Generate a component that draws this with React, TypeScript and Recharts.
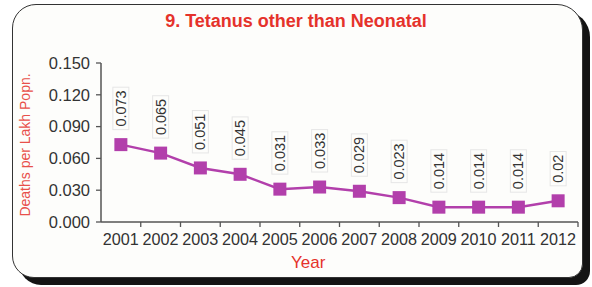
import { LineChart, Line, XAxis, YAxis, LabelList } from "recharts";

const years = ["2001", "2002", "2003", "2004", "2005", "2006", "2007", "2008", "2009", "2010", "2011", "2012"];
const deaths = [0.073, 0.065, 0.051, 0.045, 0.031, 0.033, 0.029, 0.023, 0.014, 0.014, 0.014, 0.02];
const valueLabels = ["0.073", "0.065", "0.051", "0.045", "0.031", "0.033", "0.029", "0.023", "0.014", "0.014", "0.014", "0.02"];
const yTicks = [0, 0.03, 0.06, 0.09, 0.12, 0.15];

const data = years.map((year, i) => ({ year, value: deaths[i], label: valueLabels[i] }));

const W = 592;
const H = 287;
const MARGIN = { top: 63, right: 14, bottom: 35, left: 41 };
const Y_WIDTH = 60;
const PLOT_W = W - MARGIN.left - MARGIN.right - Y_WIDTH;
const BAND = PLOT_W / years.length;

const RED = "#e5322b";
const PURPLE = "#b23fab";
const INK = "#333";

const SquareDot = (props: any) => {
  const { cx, cy, index } = props;
  return <rect key={index} x={cx - 6.5} y={cy - 6.5} width={13} height={13} fill={PURPLE} />;
};

const XTick = (props: any) => {
  const { x, y, payload } = props;
  const bx = x + BAND / 2;
  return (
    <g>
      <line x1={bx} y1={y - 8} x2={bx} y2={y - 3} stroke="#555" strokeWidth={1.3} />
      <text x={x} y={y + 15} textAnchor="middle" fill={INK} fontSize={16.2}>
        {payload.value}
      </text>
    </g>
  );
};

const RotLabel = (props: any) => {
  const { x, y, value, index } = props;
  const len = String(value).replace(".", "").length * 8.1 + 4;
  const by = y - 18;
  return (
    <g key={index}>
      <rect x={x - 8} y={by - len - 3} width={16} height={len + 6} fill="none" stroke="#e6e6e6" strokeWidth={1} />
      <text
        x={x}
        y={by}
        transform={`rotate(-90 ${x} ${by})`}
        textAnchor="start"
        dominantBaseline="central"
        fill={INK}
        fontSize={14.5}
      >
        {value}
      </text>
    </g>
  );
};

export default function App() {
  return (
    <div style={{ position: "fixed", left: 0, top: 0, width: W, height: H, background: "#fff", fontFamily: "'Liberation Sans', Arial, sans-serif" }}>
      <div
        style={{
          position: "absolute",
          left: 12,
          top: 4,
          width: 571,
          height: 274,
          boxSizing: "border-box",
          border: "1.5px solid #333",
          borderRadius: "24px 26px 14px 22px",
          background: "#fdfdfb",
          boxShadow: "7px 7px 0 #141414",
        }}
      />
      <div
        style={{
          position: "absolute",
          left: 0,
          top: 10,
          width: 592,
          textAlign: "center",
          color: RED,
          fontWeight: "bold",
          fontSize: 18,
          lineHeight: "22px",
        }}
      >
        9. Tetanus other than Neonatal
      </div>
      <div
        style={{
          position: "absolute",
          left: 291,
          top: 253,
          color: RED,
          fontSize: 17,
          lineHeight: "20px",
        }}
      >
        Year
      </div>
      <div
        style={{
          position: "absolute",
          left: -55,
          top: 137,
          width: 160,
          height: 16,
          lineHeight: "16px",
          textAlign: "center",
          transform: "rotate(-90deg)",
          color: "#e8504a",
          fontSize: 14,
        }}
      >
        Deaths per Lakh Popn.
      </div>
      <div style={{ position: "absolute", left: 0, top: 0 }}>
        <LineChart width={W} height={H} data={data} margin={MARGIN}>
          <XAxis
            dataKey="year"
            scale="band"
            interval={0}
            axisLine={{ stroke: "#555", strokeWidth: 1.5 }}
            tickLine={false}
            tick={<XTick />}
            height={30}
          />
          <YAxis
            domain={[0, 0.15]}
            ticks={yTicks}
            width={Y_WIDTH}
            axisLine={{ stroke: "#555", strokeWidth: 1.5 }}
            tickLine={{ stroke: "#555", strokeWidth: 1.3 }}
            tickSize={5}
            tickMargin={6}
            tick={{ fill: INK, fontSize: 16.5 }}
            tickFormatter={(v: number) => v.toFixed(3)}
          />
          <Line
            type="linear"
            dataKey="value"
            stroke={PURPLE}
            strokeWidth={2.5}
            dot={<SquareDot />}
            activeDot={false}
            isAnimationActive={false}
          >
            <LabelList dataKey="label" content={<RotLabel />} />
          </Line>
        </LineChart>
      </div>
    </div>
  );
}
